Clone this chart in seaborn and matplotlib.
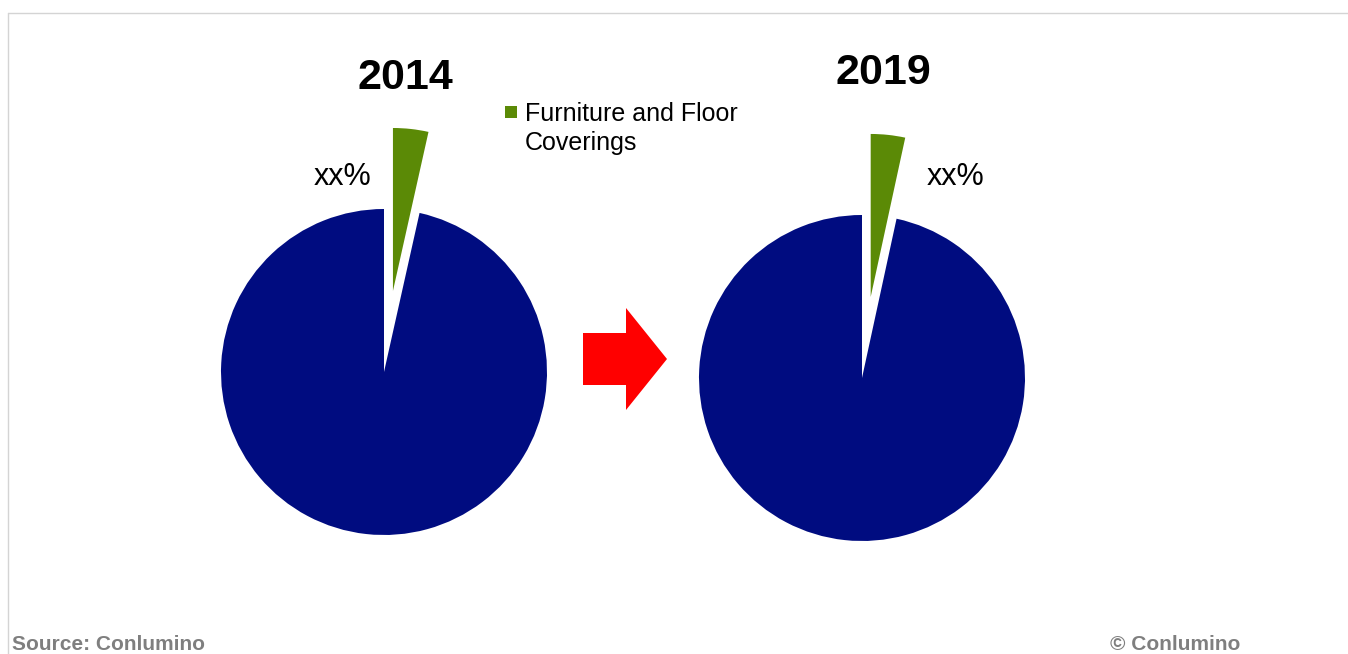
import matplotlib
matplotlib.use("Agg")
import matplotlib.pyplot as plt
import matplotlib.patches as mpatches
import seaborn as sns

# data
years = ["2014", "2019"]
segment_names = ["Furniture and Floor Coverings", "Other"]
furniture_share = [0.035, 0.034]
share_labels = ["xx%", "xx%"]

colors = ["#5b8a06", "#000c80"]

sns.set_theme(style="white")
plt.rcParams["font.family"] = ["Liberation Sans", "DejaVu Sans"]
plt.rcParams["text.color"] = "black"

W, H = 1348, 654
fig = plt.figure(figsize=(W / 100, H / 100), dpi=100)
ax = fig.add_axes([0, 0, 1, 1])

# pie centres in pixel space (y up)
centres = [(384, H - 372), (862, H - 378)]
radius = 163

for i, year in enumerate(years):
    values = [furniture_share[i], 1 - furniture_share[i]]
    ax.pie(
        values,
        colors=colors,
        startangle=90,
        counterclock=False,
        radius=radius,
        center=centres[i],
        explode=[0.5 * radius, 0],
        wedgeprops=dict(linewidth=0),
    )

ax.set_xlim(0, W)
ax.set_ylim(0, H)
ax.set_aspect("equal")
ax.axis("off")

# titles and labels
ax.text(405, H - 78, years[0], ha="center", va="center", fontsize=31,
        fontweight="bold", color="black")
ax.text(883, H - 73, years[1], ha="center", va="center", fontsize=31,
        fontweight="bold", color="black")
ax.text(343, H - 177, share_labels[0], ha="center", va="center", fontsize=22,
        color="black")
ax.text(956, H - 177, share_labels[1], ha="center", va="center", fontsize=22,
        color="black")

# legend (first segment only)
ax.add_patch(mpatches.Rectangle((505, H - 118), 12, 12, color=colors[0], lw=0))
ax.text(525, H - 102, "Furniture and Floor\nCoverings", ha="left", va="top",
        fontsize=18, linespacing=1.28, color="black")

# arrow between the pies
ax.add_patch(mpatches.FancyArrow(583, H - 359, 84, 0, width=52, head_width=102,
                                 head_length=41, length_includes_head=True,
                                 color="red", lw=0))

# frame lines
ax.plot([8, 8], [0, H - 13], color="#d4d4d4", lw=1)
ax.plot([8, W], [H - 13, H - 13], color="#d4d4d4", lw=1)

# footer
ax.text(12, 4, "Source: Conlumino", ha="left", va="baseline", fontsize=15,
        fontweight="bold", color="#7f7f7f")
ax.text(1110, 4, "\u00a9 Conlumino", ha="left", va="baseline", fontsize=15,
        fontweight="bold", color="#7f7f7f")

fig.savefig("out.png", dpi=100)
